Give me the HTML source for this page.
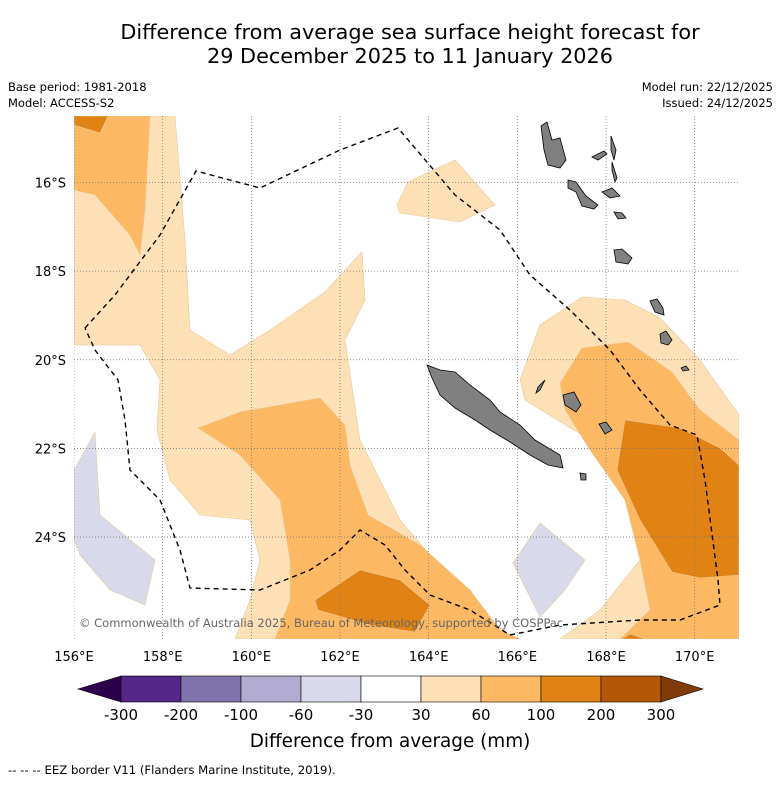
<!DOCTYPE html>
<html><head><meta charset="utf-8"><style>
body{margin:0;background:#fff;font-family:"DejaVu Sans",sans-serif;}
svg text{font-family:"DejaVu Sans",sans-serif;}
</style></head><body>
<svg id="c" width="781" height="781" xmlns="http://www.w3.org/2000/svg">
<text x="410" y="39" font-size="20.8" text-anchor="middle">Difference from average sea surface height forecast for</text>
<text x="410" y="63" font-size="20.8" text-anchor="middle">29 December 2025 to 11 January 2026</text>
<text x="8" y="91" font-size="11.5">Base period: 1981-2018</text>
<text x="8" y="107" font-size="11.5">Model: ACCESS-S2</text>
<text x="773" y="91" font-size="11.5" text-anchor="end">Model run: 22/12/2025</text>
<text x="773" y="107" font-size="11.5" text-anchor="end">Issued: 24/12/2025</text>
<defs><clipPath id="mc"><rect x="74" y="116" width="665" height="523"/></clipPath></defs>
<g id="map" clip-path="url(#mc)"></g>
<g id="axes"></g>
<g id="cbar"></g>
<text x="390" y="747" font-size="18.4" text-anchor="middle">Difference from average (mm)</text>
<text x="8" y="774" font-size="11.7">--  --  -- EEZ border V11 (Flanders Marine Institute, 2019).</text>
</svg>
<script>
const lonTicks=[156,158,160,162,164,166,168,170];
const latTicks=[16,18,20,22,24];
const cbLevels=["-300","-200","-100","-60","-30","30","60","100","200","300"];
const cbColors=["#542788","#8073ac","#b2abd2","#d8daeb","#ffffff","#fee0b6","#fdb863","#e08214","#b35806"];
// contour polygons (pixel-projected map units)
const contours=[
{c:"#fee0b6",p:[[74,116],[175,116],[185,240],[190,330],[230,355],[270,330],[325,292],[362,252],[365,300],[345,340],[360,440],[400,520],[460,590],[512,639],[235,639],[250,600],[260,560],[250,520],[200,515],[170,480],[157,430],[160,380],[140,345],[74,345]]},
{c:"#fdb863",p:[[74,116],[150,116],[145,210],[140,255],[130,235],[95,195],[74,190]]},
{c:"#e08214",p:[[74,116],[108,116],[100,133],[74,125]]},
{c:"#fdb863",p:[[198,428],[240,412],[320,398],[345,425],[350,465],[368,515],[420,545],[470,590],[500,630],[520,639],[275,639],[290,600],[290,560],[280,500],[240,455]]},
{c:"#e08214",p:[[315,600],[360,570],[400,580],[430,605],[415,632],[370,625],[318,610]]},
{c:"#fee0b6",p:[[397,205],[408,182],[455,160],[495,205],[460,222],[400,213]]},
{c:"#fee0b6",p:[[520,380],[540,325],[582,297],[625,300],[660,318],[700,360],[739,415],[739,639],[560,639],[600,610],[640,560],[630,500],[590,440],[525,400]]},
{c:"#fdb863",p:[[560,383],[582,348],[628,342],[672,372],[700,410],[739,440],[739,639],[620,639],[650,610],[640,560],[625,500],[590,450],[565,410]]},
{c:"#e08214",p:[[617,470],[625,420],[680,428],[720,448],[739,465],[739,575],[700,578],[672,572],[640,520]]},
{c:"#e08214",p:[[622,639],[630,634],[645,639]]},
{c:"#d8daeb",p:[[74,470],[95,432],[100,515],[155,560],[145,605],[110,590],[80,555],[74,540]]},
{c:"#d8daeb",p:[[513,563],[540,523],[585,560],[565,590],[540,617]]}
];
const islands=[
[[427,365],[440,370],[455,372],[470,385],[490,400],[500,412],[520,425],[535,440],[560,455],[563,468],[548,465],[530,455],[510,442],[490,430],[475,420],[455,408],[440,395],[432,378]],
[[541,126],[547,122],[552,140],[560,138],[566,160],[560,168],[548,165],[544,150]],
[[568,180],[576,182],[586,196],[598,205],[594,209],[582,206],[576,192],[568,188]],
[[602,192],[612,188],[620,196],[610,198]],
[[611,136],[616,150],[614,160],[611,150]],
[[612,162],[617,178],[615,182],[612,170]],
[[592,157],[604,151],[607,154],[598,160]],
[[614,250],[622,249],[632,258],[628,264],[616,262]],
[[614,212],[622,213],[626,218],[618,219]],
[[650,301],[657,299],[663,308],[664,315],[655,312]],
[[660,334],[666,331],[672,340],[668,345],[661,343]],
[[563,395],[574,392],[581,405],[576,412],[565,405]],
[[599,424],[606,422],[612,430],[605,434]],
[[681,368],[686,366],[689,370],[683,371]],
[[580,473],[586,474],[586,480],[581,480]],
[[538,387],[545,380],[540,390],[536,393]]
];
const eez=[[85,328],[115,295],[160,235],[196,171],[260,188],[340,150],[398,128],[455,195],[500,230],[530,275],[570,310],[610,350],[640,390],[670,425],[697,435],[705,480],[718,580],[720,605],[680,620],[640,620],[560,625],[510,635],[470,610],[430,595],[405,570],[385,545],[360,530],[340,550],[310,570],[260,590],[190,588],[180,550],[160,500],[130,470],[125,420],[118,380],[95,350],[85,328]];
const NS="http://www.w3.org/2000/svg";
const x0=74,y0=116,w=665,h=523,lonMin=156,lonMax=171,latTop=14.5,latBot=26.3;
const xs=lon=>x0+(lon-lonMin)/(lonMax-lonMin)*w;
const ys=lat=>y0+(lat-latTop)/(latBot-latTop)*h;
function mk(t,a,parent){const e=document.createElementNS(NS,t);for(const k in a)e.setAttribute(k,a[k]);parent.appendChild(e);return e;}
const map=document.getElementById('map'),axes=document.getElementById('axes'),cb=document.getElementById('cbar');
contours.forEach((o,i)=>{const e=mk('polygon',{points:o.p.map(q=>q.join(',')).join(' '),fill:o.c,stroke:"#e8c89a","stroke-width":0.6},map);

});
lonTicks.forEach(l=>{const e=mk('line',{x1:xs(l),x2:xs(l),y1:y0,y2:y0+h,stroke:"#777","stroke-width":0.8,"stroke-dasharray":"1,2"},map);


const t=mk('text',{x:xs(l),y:661,"font-size":13,"text-anchor":"middle"},axes);t.textContent=l+"°E";

});
latTicks.forEach(l=>{const e=mk('line',{x1:x0,x2:x0+w,y1:ys(l),y2:ys(l),stroke:"#777","stroke-width":0.8,"stroke-dasharray":"1,2"},map);


const t=mk('text',{x:66,y:ys(l)+5,"font-size":13,"text-anchor":"end"},axes);t.textContent=l+"°S";

});
islands.forEach(p=>{const e=mk('polygon',{points:p.map(q=>q.join(',')).join(' '),fill:"#808080",stroke:"#000","stroke-width":0.8},map);

});
const ez=mk('polyline',{points:eez.map(q=>q.join(',')).join(' '),fill:"none",stroke:"#000","stroke-width":1.4,"stroke-dasharray":"5,4"},map);


const cp=mk('text',{x:79,y:627,"font-size":11.5,fill:"#666"},map);cp.textContent="© Commonwealth of Australia 2025, Bureau of Meteorology, supported by COSPPac";


const bx=121,bw=60,by=676,bh=26;
cbColors.forEach((c,i)=>{const r=mk('rect',{x:bx+i*bw,y:by,width:bw,height:bh,fill:c,stroke:"#000","stroke-width":0.6},cb);

});
const tl=mk('polygon',{points:`${bx},${by} 78,${by+bh/2} ${bx},${by+bh}`,fill:"#2d004b",stroke:"#000","stroke-width":0.6},cb);


const ex=bx+cbColors.length*bw;
const tr=mk('polygon',{points:`${ex},${by} ${ex+42},${by+bh/2} ${ex},${by+bh}`,fill:"#7f3b08",stroke:"#000","stroke-width":0.6},cb);


cbLevels.forEach((s,i)=>{const t=mk('text',{x:bx+i*bw,y:720,"font-size":15,"text-anchor":"middle"},cb);t.textContent=s;

});
</script>
</body></html>
